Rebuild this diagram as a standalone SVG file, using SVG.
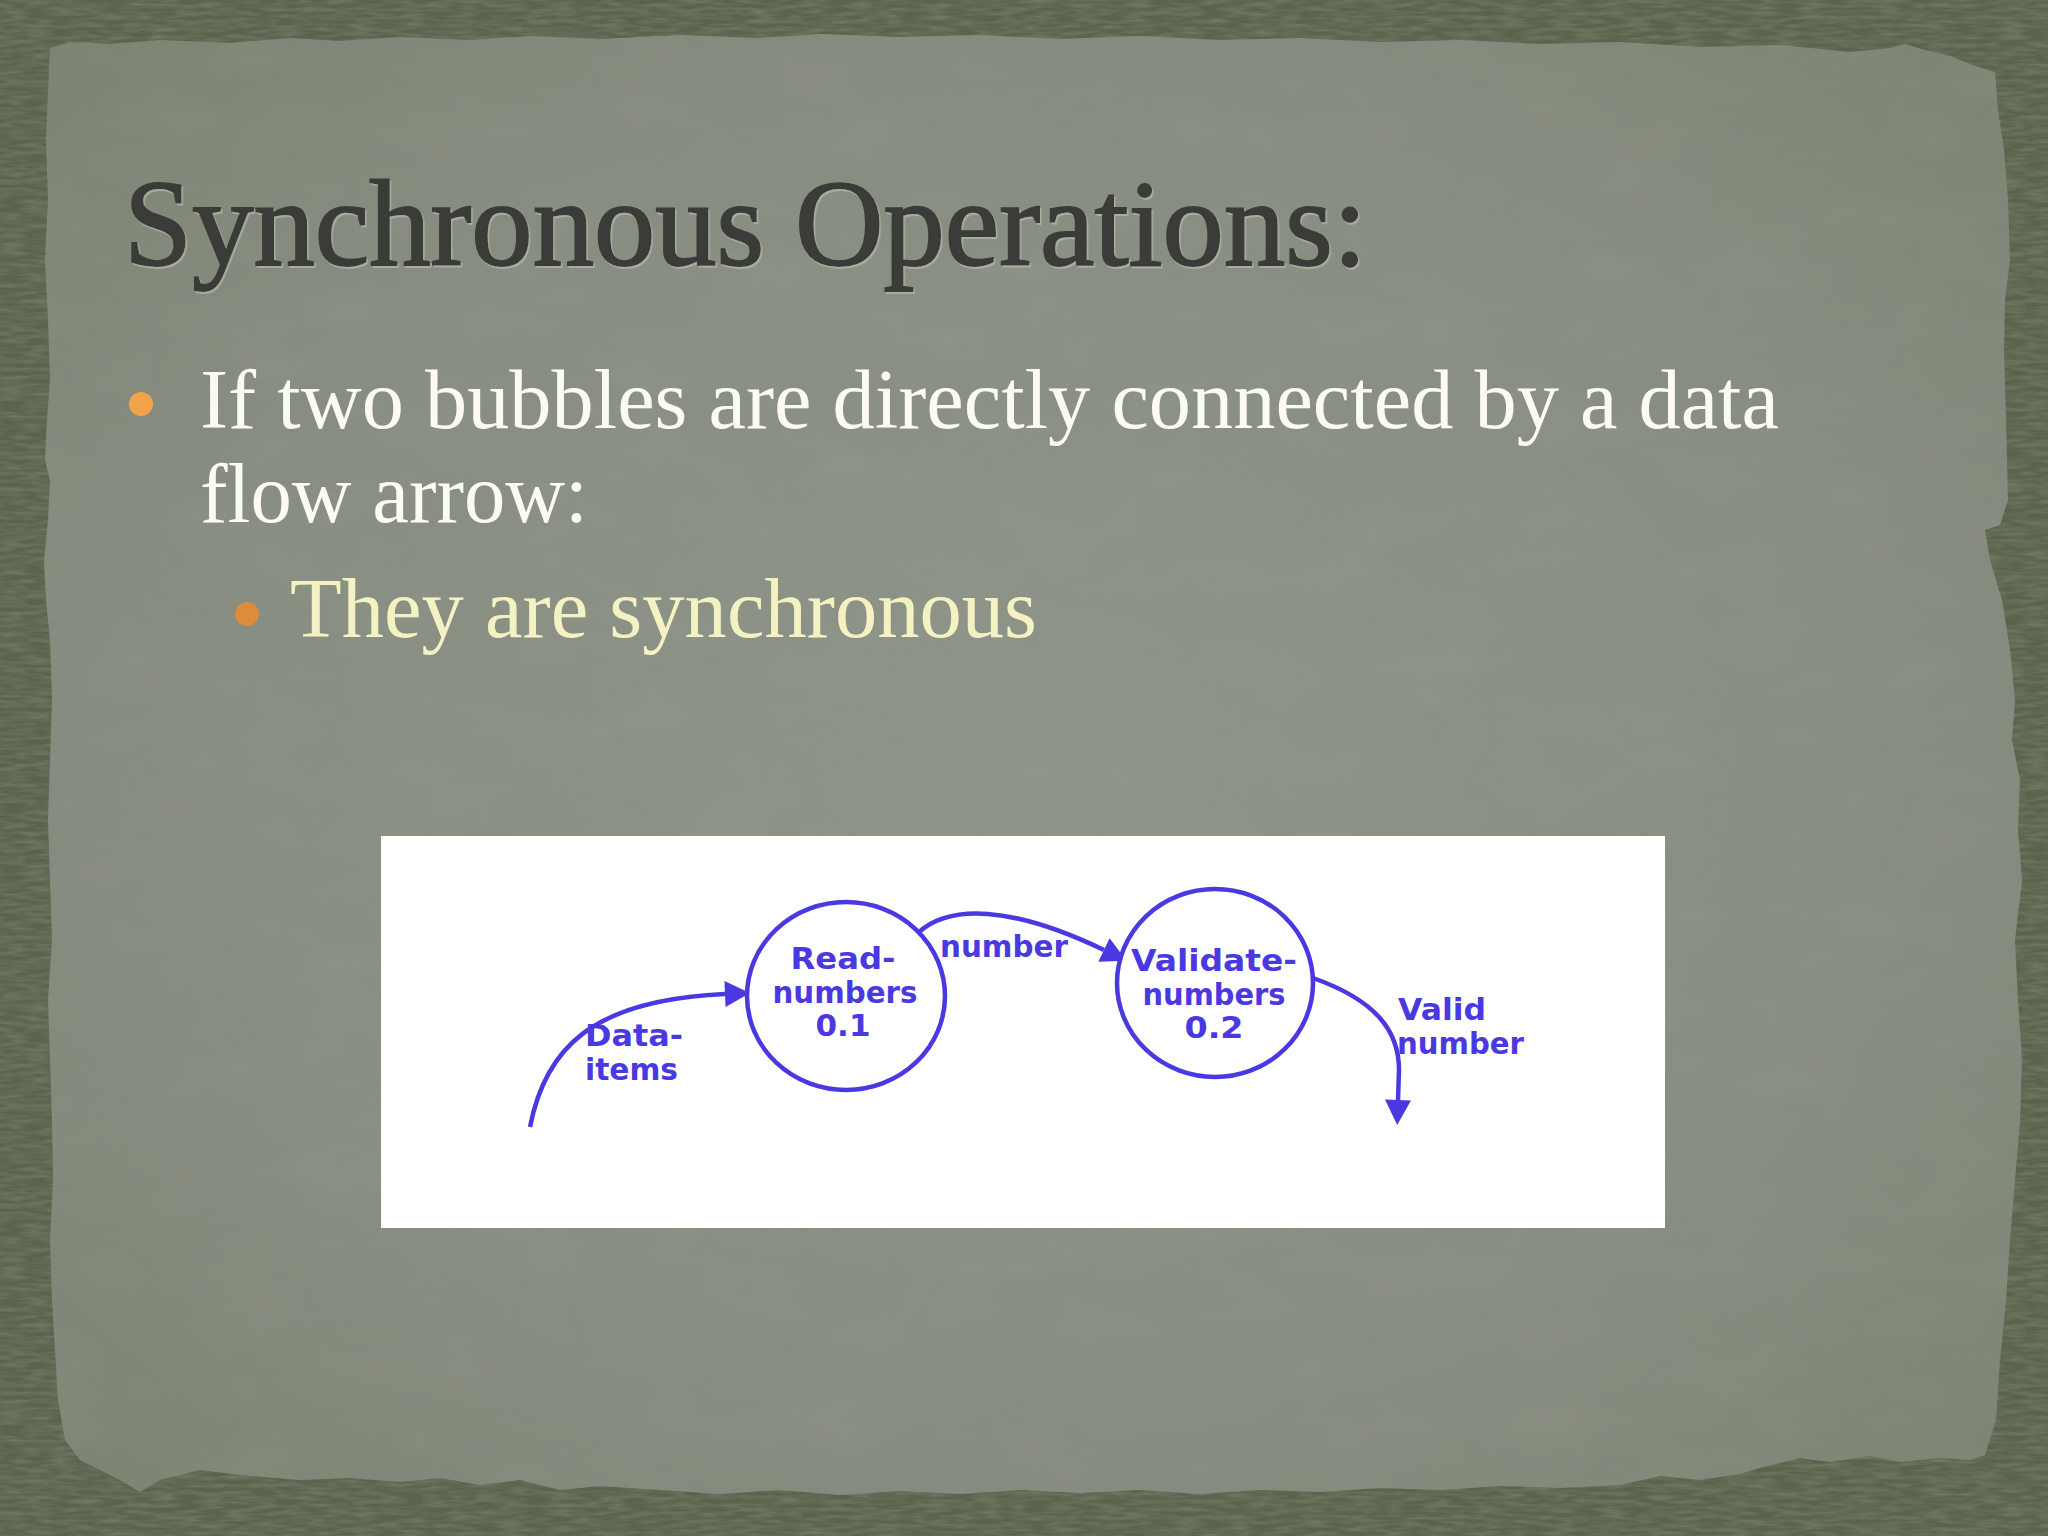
<svg xmlns="http://www.w3.org/2000/svg" width="2048" height="1536" viewBox="0 0 2048 1536">
<style>
.title{font-family:"Liberation Serif","Times New Roman",serif;font-size:123px;fill:#3a3b38;stroke:#3a3b38;stroke-width:2px}
.body{font-family:"Liberation Serif","Times New Roman",serif;font-size:85px;fill:#fbfbf3}
.sub{font-family:"Liberation Serif","Times New Roman",serif;font-size:85px;fill:#f4f1c2}
.dfd{font-family:"DejaVu Sans","Verdana",sans-serif;font-size:30px;font-weight:bold;fill:#4a38e0}
.mid{text-anchor:middle}
.bubble{fill:#ffffff;stroke:#4a38e0;stroke-width:4.5}
.flow{fill:none;stroke:#4a38e0;stroke-width:4.5;marker-end:url(#ah)}
</style>
<defs>
<marker id="ah" markerUnits="userSpaceOnUse" markerWidth="30" markerHeight="32" viewBox="0 -16 28 32" refX="0" refY="0" orient="auto">
<path d="M0,-13 L25,0 L0,13 z" fill="#4a38e0"/>
</marker>
<radialGradient id="paperGrad" cx="50%" cy="50%" r="70%">
<stop offset="0" stop-color="#8e9489"/>
<stop offset="0.65" stop-color="#878d80"/>
<stop offset="1" stop-color="#7d8474"/>
</radialGradient>
<filter id="frameNoise" x="0" y="0" width="100%" height="100%">
<feTurbulence type="fractalNoise" baseFrequency="0.04 0.25" numOctaves="2" seed="7"/>
<feColorMatrix type="matrix" values="0 0 0 0 0.24  0 0 0 0 0.28  0 0 0 0 0.20  0 0 0 0.9 -0.3"/>
</filter>
<filter id="paperNoise" x="0" y="0" width="100%" height="100%">
<feTurbulence type="fractalNoise" baseFrequency="0.01 0.02" numOctaves="3" seed="11"/>
<feColorMatrix type="matrix" values="0 0 0 0 0.40  0 0 0 0 0.43  0 0 0 0 0.37  0 0 0 0.4 -0.16"/>
</filter>
<filter id="emboss" x="-5%" y="-20%" width="110%" height="140%">
<feDropShadow dx="1.5" dy="2" stdDeviation="0.6" flood-color="#b4b9ad" flood-opacity="0.7"/>
</filter>
<clipPath id="paperClip">
<path d="M50,48 L70,42 L110,44 L160,40 L230,43 L290,38 L340,41 L400,37 L470,40 L530,36 L600,39 L680,35 L760,38 L820,34 L900,37 L980,35 L1060,39 L1140,36 L1220,40 L1300,38 L1380,42 L1460,40 L1540,44 L1620,42 L1700,47 L1780,45 L1850,52 L1890,48 L1905,44 L1925,50 L1950,56 L1975,66 L1995,72 L1998,110 L2004,150 L2008,200 L2010,260 L2005,300 L2004,350 L2006,420 L2008,500 L2000,525 L1985,530 L1990,560 L2002,600 L2010,650 L2015,700 L2012,740 L2020,780 L2018,830 L2022,880 L2015,940 L2018,1000 L2022,1060 L2020,1120 L2015,1180 L2010,1240 L2006,1300 L2000,1360 L1996,1420 L1985,1455 L1970,1460 L1940,1458 L1900,1462 L1870,1456 L1830,1462 L1800,1458 L1760,1468 L1740,1474 L1700,1480 L1660,1476 L1620,1485 L1560,1488 L1500,1486 L1440,1490 L1380,1488 L1320,1492 L1260,1490 L1200,1494 L1140,1490 L1080,1493 L1020,1490 L960,1494 L900,1491 L840,1495 L780,1490 L720,1494 L660,1490 L600,1486 L560,1490 L520,1480 L480,1485 L440,1478 L400,1482 L350,1478 L300,1480 L250,1476 L200,1470 L160,1480 L140,1492 L120,1480 L100,1470 L80,1460 L65,1440 L58,1400 L55,1350 L52,1300 L50,1240 L53,1180 L52,1120 L50,1060 L48,1000 L52,940 L50,880 L48,820 L50,760 L52,700 L50,640 L46,600 L44,560 L48,520 L50,480 L45,460 L47,420 L50,380 L48,320 L45,260 L48,200 L46,140 L48,90 Z"/>
</clipPath>
</defs>

<g id="background">
<rect x="0" y="0" width="2048" height="1536" fill="#5a634d"/>
<rect x="0" y="0" width="2048" height="1536" filter="url(#frameNoise)"/>
<path d="M50,48 L70,42 L110,44 L160,40 L230,43 L290,38 L340,41 L400,37 L470,40 L530,36 L600,39 L680,35 L760,38 L820,34 L900,37 L980,35 L1060,39 L1140,36 L1220,40 L1300,38 L1380,42 L1460,40 L1540,44 L1620,42 L1700,47 L1780,45 L1850,52 L1890,48 L1905,44 L1925,50 L1950,56 L1975,66 L1995,72 L1998,110 L2004,150 L2008,200 L2010,260 L2005,300 L2004,350 L2006,420 L2008,500 L2000,525 L1985,530 L1990,560 L2002,600 L2010,650 L2015,700 L2012,740 L2020,780 L2018,830 L2022,880 L2015,940 L2018,1000 L2022,1060 L2020,1120 L2015,1180 L2010,1240 L2006,1300 L2000,1360 L1996,1420 L1985,1455 L1970,1460 L1940,1458 L1900,1462 L1870,1456 L1830,1462 L1800,1458 L1760,1468 L1740,1474 L1700,1480 L1660,1476 L1620,1485 L1560,1488 L1500,1486 L1440,1490 L1380,1488 L1320,1492 L1260,1490 L1200,1494 L1140,1490 L1080,1493 L1020,1490 L960,1494 L900,1491 L840,1495 L780,1490 L720,1494 L660,1490 L600,1486 L560,1490 L520,1480 L480,1485 L440,1478 L400,1482 L350,1478 L300,1480 L250,1476 L200,1470 L160,1480 L140,1492 L120,1480 L100,1470 L80,1460 L65,1440 L58,1400 L55,1350 L52,1300 L50,1240 L53,1180 L52,1120 L50,1060 L48,1000 L52,940 L50,880 L48,820 L50,760 L52,700 L50,640 L46,600 L44,560 L48,520 L50,480 L45,460 L47,420 L50,380 L48,320 L45,260 L48,200 L46,140 L48,90 Z" fill="url(#paperGrad)"/>
<rect x="0" y="0" width="2048" height="1536" filter="url(#paperNoise)" clip-path="url(#paperClip)" opacity="0.5"/>
</g>

<g id="title">
<text class="title" x="124" y="265" textLength="1243" lengthAdjust="spacingAndGlyphs" filter="url(#emboss)">Synchronous Operations:</text>
</g>

<g id="bullets">
<circle cx="141" cy="404" r="12" fill="#f2a24a"/>
<text class="body" x="200" y="428" textLength="1579" lengthAdjust="spacingAndGlyphs">If two bubbles are directly connected by a data</text>
<text class="body" x="200" y="522" textLength="388" lengthAdjust="spacingAndGlyphs">flow arrow:</text>
<circle cx="247" cy="614" r="12" fill="#de8c3a"/>
<text class="sub" x="290" y="637" textLength="747" lengthAdjust="spacingAndGlyphs">They are synchronous</text>
</g>

<g id="diagram">
<rect x="381" y="836" width="1284" height="392" fill="#ffffff"/>

<g id="connectors">
<path class="flow" d="M530,1127 C545,1050 590,1000 725,994"/>
<path class="flow" d="M919,932 C950,905 1010,905 1104,950"/>
<path class="flow" d="M1313,978 C1375,1000 1399,1030 1399,1070 L1398,1100"/>
</g>

<g id="node-read-numbers">
<ellipse class="bubble" cx="846" cy="996" rx="99" ry="94"/>
<text class="dfd mid" x="843" y="969" textLength="105" lengthAdjust="spacingAndGlyphs">Read-</text>
<text class="dfd mid" x="845" y="1003" textLength="145" lengthAdjust="spacingAndGlyphs">numbers</text>
<text class="dfd mid" x="843" y="1036" textLength="55" lengthAdjust="spacingAndGlyphs">0.1</text>
</g>

<g id="node-validate-numbers">
<ellipse class="bubble" cx="1215" cy="983" rx="98" ry="94"/>
<text class="dfd mid" x="1214" y="971" textLength="166" lengthAdjust="spacingAndGlyphs">Validate-</text>
<text class="dfd mid" x="1214" y="1005" textLength="143" lengthAdjust="spacingAndGlyphs">numbers</text>
<text class="dfd mid" x="1214" y="1038" textLength="59" lengthAdjust="spacingAndGlyphs">0.2</text>
</g>

<g id="labels">
<text class="dfd" x="585" y="1046" textLength="98" lengthAdjust="spacingAndGlyphs">Data-</text>
<text class="dfd" x="585" y="1080" textLength="93" lengthAdjust="spacingAndGlyphs">items</text>
<text class="dfd" x="940" y="957" textLength="128" lengthAdjust="spacingAndGlyphs">number</text>
<text class="dfd" x="1398" y="1020" textLength="88" lengthAdjust="spacingAndGlyphs">Valid</text>
<text class="dfd" x="1397" y="1054" textLength="127" lengthAdjust="spacingAndGlyphs">number</text>
</g>
</g>
</svg>
